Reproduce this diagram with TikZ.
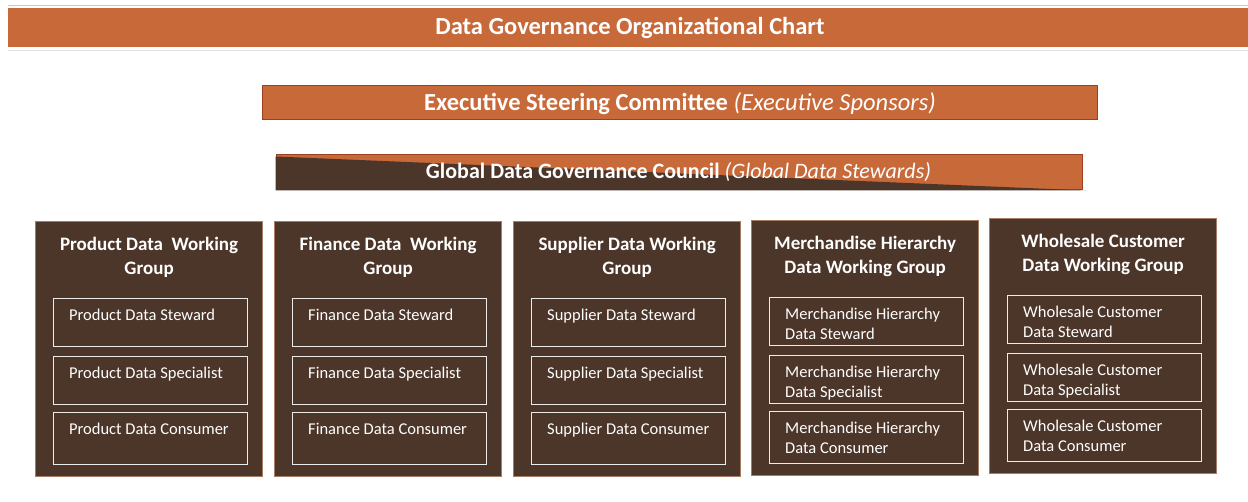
\documentclass[tikz,border=0pt]{standalone}
\usepackage{fontspec}
\setmainfont{Carlito}
\usepackage{tikz}

\definecolor{dgorange}{HTML}{C8693A}
\definecolor{dgbrown}{HTML}{4C3529}
\definecolor{dgedge}{HTML}{A67C64}
\definecolor{dgred}{HTML}{9E3F22}

\tikzset{
  groupbox/.style={draw=dgedge,line width=1.2pt,fill=dgbrown,anchor=north west,
    minimum width=227pt,minimum height=255pt,inner sep=0pt},
  grouptitle/.style={text=white,font=\fontsize{19}{24}\selectfont\bfseries,align=center},
  rolebox/.style={draw=white!90!dgbrown,line width=1pt,anchor=north west,
    minimum width=194pt,inner sep=0pt},
  roletext/.style={text=white,font=\fontsize{16.5}{20}\selectfont,align=left,
    anchor=north west,inner sep=0pt}
}

\begin{document}
\begin{tikzpicture}[x=1pt,y=-1pt]
  \useasboundingbox[fill=white] (0,0) rectangle (1248,502);
  % title band
  \draw[gray!45,line width=1pt] (8,6) -- (1248,6);
  \fill[dgorange] (8,8) rectangle (1248,47);
  \draw[gray!25,line width=1pt] (8,51) -- (1248,51);
  \node[text=white,font=\fontsize{24.5}{28}\selectfont\bfseries] (title) at (630,28)
    {Data Governance Organizational Chart};
  % executive bar
  \node[draw=dgred,fill=dgorange,line width=1pt,minimum width=835pt,minimum height=34pt,
    inner sep=0pt] (exec) at (679.5,103) {};
  \node[text=white,font=\fontsize{24.5}{28}\selectfont] (exectext) at (680,104)
    {\textbf{Executive Steering Committee} \textit{(Executive Sponsors)}};
  % council bar
  \node[draw=dgred,fill=dgorange,line width=1pt,minimum width=806pt,minimum height=35pt,
    inner sep=0pt] (council) at (679,172.5) {};
  \fill[dgbrown] ([yshift=-2pt]council.north west) -- ([xshift=4pt]council.south east)
    -- (council.south west) -- cycle;
  \node[text=white,font=\fontsize{22}{26}\selectfont] (counciltext) at (678.5,172)
    {\textbf{Global Data Governance Council} \textit{(Global Data Stewards)}};
  % working groups
  \foreach \gx/\gy/\gname/\gtitle/\gbr [count=\i] in {
      35/221/Product/{Product Data\ \ Working\\Group}/\space,
      274/221/Finance/{Finance Data\ \ Working\\Group}/\space,
      513/221/Supplier/{Supplier Data Working\\Group}/\space,
      751/220/Merchandise Hierarchy/{Merchandise Hierarchy\\Data Working Group}/\\,
      989/218/Wholesale Customer/{Wholesale Customer\\Data Working Group}/\\} {
    \node[groupbox] (g\i) at (\gx,\gy) {};
    \node[grouptitle] (g\i title) at ([shift={(0,36)}]g\i.north) {\gtitle};
    \node[rolebox,minimum height=48pt] (g\i r1) at ([shift={(18,77)}]g\i.north west) {};
    \node[rolebox,minimum height=48pt] (g\i r2) at ([shift={(18,135)}]g\i.north west) {};
    \node[rolebox,minimum height=52pt] (g\i r3) at ([shift={(18,191)}]g\i.north west) {};
    \node[roletext] (g\i t1) at ([shift={(16,10.5)}]g\i r1.north west) {\gname\gbr Data Steward};
    \node[roletext] (g\i t2) at ([shift={(16,10.5)}]g\i r2.north west) {\gname\gbr Data Specialist};
    \node[roletext] (g\i t3) at ([shift={(16,10.5)}]g\i r3.north west) {\gname\gbr Data Consumer};
  }
\end{tikzpicture}
\end{document}
